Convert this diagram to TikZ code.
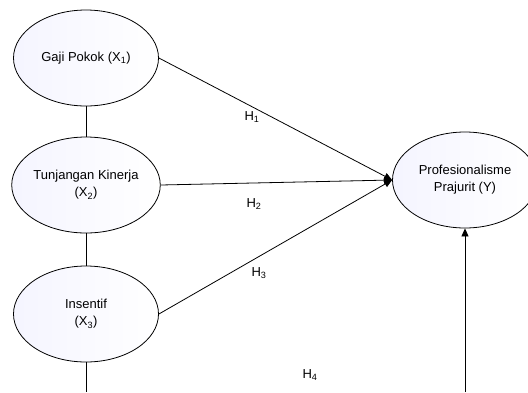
\documentclass[tikz,border=0pt]{standalone}
\usepackage{fontspec}
\setmainfont{Liberation Sans}
\usetikzlibrary{arrows.meta,positioning,shapes.geometric}

\begin{document}
\begin{tikzpicture}[x=1pt,y=-1pt,line width=0.8pt,
  varnode/.style={ellipse,draw,minimum width=145pt,minimum height=96pt,inner sep=0pt,
    align=center,left color=blue!4,right color=white,
    font=\fontsize{13}{17}\selectfont},
  hlabel/.style={font=\fontsize{13}{15}\selectfont},
  >={Triangle[length=8pt,width=7pt]}]
 	\clip (0,0) rectangle (528,392);
 	% variables
 	\node[varnode] (x1) at (86,58) {Gaji Pokok (X\textsubscript{1})};
 	\node[varnode] (x2) at (86,185) {Tunjangan Kinerja\\(X\textsubscript{2})};
 	\node[varnode] (x3) at (86,314) {Insentif\\(X\textsubscript{3})};
 	\node[varnode] (y) at (465,180) {Profesionalisme\\Prajurit (Y)};
 	\coordinate (x3foot) at (86,392);
 	\coordinate (yfoot) at (465,392);
 	% links
 	\draw (x1) -- (x2);
 	\draw (x2) -- (x3);
 	\draw (x3) -- (x3foot);
 	\draw[->] (x1.east) -- (y.west);
 	\draw[->] (x2.east) -- (y.west);
 	\draw[->] (x3.east) -- (y.west);
 	\draw[->] (yfoot) -- (y);
 	% hypotheses
 	\node[hlabel] (h1) at (252,117) {H\textsubscript{1}};
 	\node[hlabel] (h2) at (254,204) {H\textsubscript{2}};
 	\node[hlabel] (h3) at (259,273) {H\textsubscript{3}};
 	\node[hlabel] (h4) at (310,375) {H\textsubscript{4}};
\end{tikzpicture}
\end{document}
